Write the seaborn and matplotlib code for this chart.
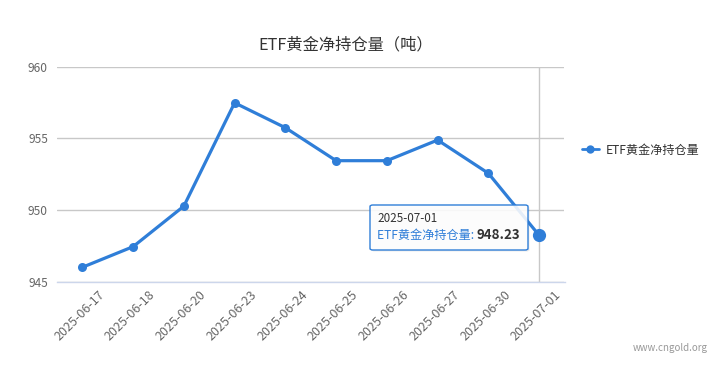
import matplotlib
matplotlib.use('Agg')
import matplotlib.pyplot as plt
import matplotlib.transforms as mtransforms
from matplotlib.patches import FancyBboxPatch
from matplotlib.lines import Line2D
from matplotlib.text import Annotation
from matplotlib.ticker import FixedLocator
import seaborn as sns
import pandas as pd

# ---- data ----
dates = ['2025-06-17', '2025-06-18', '2025-06-20', '2025-06-23', '2025-06-24',
         '2025-06-25', '2025-06-26', '2025-06-27', '2025-06-30', '2025-07-01']
holdings = [946.00, 947.44, 950.27, 957.48, 955.74, 953.44, 953.44, 954.88, 952.56, 948.23]
series_name = 'ETF黄金净持仓量'
title = 'ETF黄金净持仓量（吨）'
y_ticks = [945, 950, 955, 960]
source = 'www.cngold.org'

sns.set_theme(style='white')
plt.rcParams['font.family'] = ['Noto Sans CJK SC', 'DejaVu Sans']

W, H = 723, 376
fig = plt.figure(figsize=(W / 100, H / 100), dpi=100)
fig.patch.set_facecolor('white')
ax = fig.add_axes([57 / W, 1 - 281.6 / H, 507.5 / W, 214.9 / H])
ax.set_facecolor('white')

df = pd.DataFrame({'date': dates, 'value': holdings})
df['pos'] = range(len(df))
color = '#2f7ed8'

sns.lineplot(data=df, x='pos', y='value', ax=ax, color=color, lw=2.3,
             marker='o', markersize=6.5, markeredgewidth=0, legend=False, zorder=4)
# hovered point (last)
ax.plot(df['pos'].iloc[-1], df['value'].iloc[-1], 'o', ms=9.5, color=color, mew=0,
        zorder=6, clip_on=False)

n = len(dates)
ax.set_xlim(-0.5, n - 0.5)
ax.set_ylim(y_ticks[0], y_ticks[-1])
ax.set_xlabel('')
ax.set_ylabel('')

# crosshair
ax.axvline(df['pos'].iloc[-1], color='#c8c8c8', lw=1, zorder=2)

# y axis
ax.set_yticks(y_ticks)
ax.set_yticklabels([str(v) for v in y_ticks])
ax.yaxis.grid(True, color='#c8c8c8', lw=1, zorder=1)
ax.set_axisbelow(True)
ax.tick_params(axis='y', length=0, pad=6.5, labelsize=8.6, labelcolor='#666666')

# x axis
for s in ['top', 'right', 'left']:
    ax.spines[s].set_visible(False)
ax.spines['bottom'].set_color('#ccd6eb')
ax.spines['bottom'].set_linewidth(1)
ax.set_xticks(list(range(n)))
ax.set_xticklabels(dates)
ax.xaxis.set_minor_locator(FixedLocator([i - 0.5 for i in range(n + 1)]))
ax.tick_params(axis='x', which='major', length=0, pad=0, labelsize=9, labelcolor='#666666')
ax.tick_params(axis='x', which='minor', length=4, width=1, color='#ccd6eb', direction='out')
offset = mtransforms.ScaledTranslation(20 / 100, -11 / 100, fig.dpi_scale_trans)
for lab in ax.get_xticklabels():
    lab.set_rotation(45)
    lab.set_rotation_mode('anchor')
    lab.set_ha('right')
    lab.set_va('center')
    lab.set_transform(lab.get_transform() + offset)

# title
fig.text(346 / W, 1 - 45 / H, title, ha='center', va='center', fontsize=11.7, color='#333333')

# legend
handle = Line2D([], [], color=color, lw=2, marker='o', ms=6, mew=0)
leg = fig.legend([handle], [series_name], loc='center left',
                 bbox_to_anchor=(582 / W, 1 - 150 / H), frameon=False, fontsize=8.7,
                 handlelength=1.4, handletextpad=0.6, borderpad=0, borderaxespad=0)
for t in leg.get_texts():
    t.set_color('#333333')

# source
fig.text(708 / W, 1 - 348 / H, source, ha='right', va='center', fontsize=7, color='#999999')

# tooltip
x0, y0, x1, y1 = 370, 205, 528, 250
shadow = FancyBboxPatch(((x0 + 1.5) / W, 1 - (y1 + 1.5) / H), (x1 - x0) / W, (y1 - y0) / H,
                        boxstyle='round,pad=0,rounding_size=0.004', transform=fig.transFigure,
                        facecolor='#000000', alpha=0.08, edgecolor='none', zorder=9)
fig.add_artist(shadow)
box = FancyBboxPatch((x0 / W, 1 - y1 / H), (x1 - x0) / W, (y1 - y0) / H,
                     boxstyle='round,pad=0,rounding_size=0.004', transform=fig.transFigure,
                     facecolor=(1, 1, 1, 0.88), edgecolor=color, lw=1, zorder=10)
fig.add_artist(box)
fig.text(377 / W, 1 - 218 / H, df['date'].iloc[-1], ha='left', va='center',
         fontsize=8.4, color='#333333', zorder=11)
t1 = fig.text(377 / W, 1 - 235 / H, series_name + ': ', ha='left', va='center',
              fontsize=8.7, color=color, zorder=11)
fig.add_artist(Annotation(
    f"{df['value'].iloc[-1]:.2f}", xy=(1.0, 0.5), xycoords=t1, xytext=(0, 0),
    textcoords='offset points', ha='left', va='center', fontsize=9.6,
    fontweight='bold', color='#333333', zorder=11))

fig.savefig('out.png', dpi=100, facecolor='white')
